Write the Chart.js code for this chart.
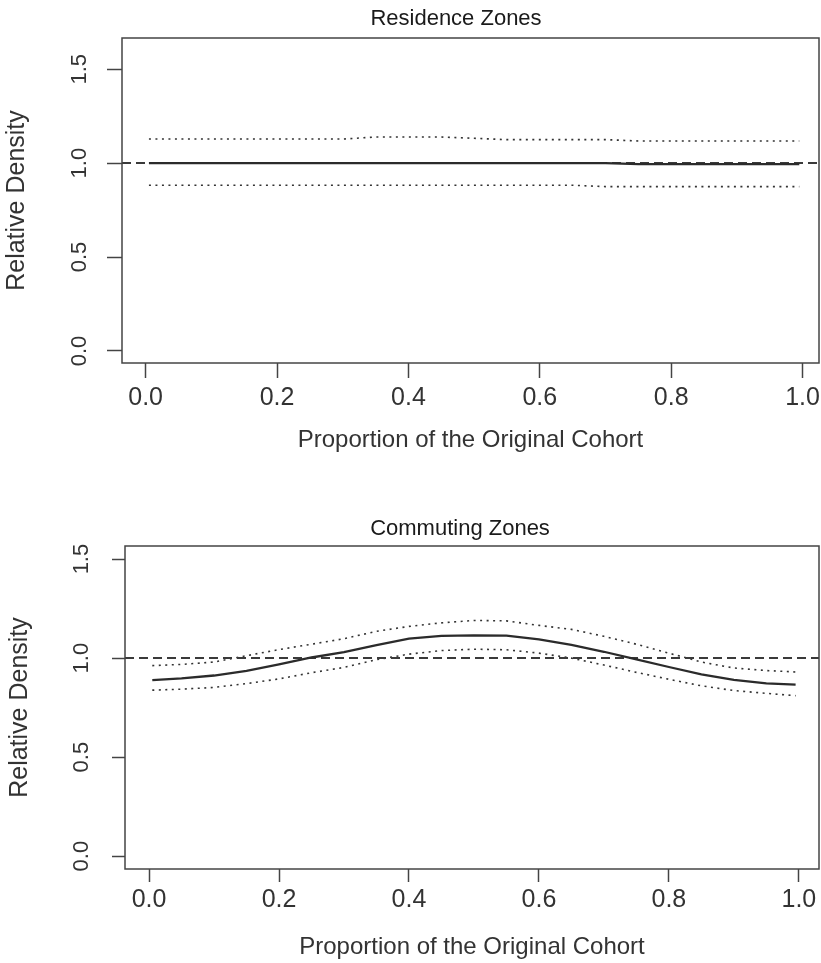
<!DOCTYPE html>
<html>
<head>
<meta charset="utf-8">
<script src="https://cdn.jsdelivr.net/npm/chart.js@4.4.0/dist/chart.umd.min.js"></script>
<style>
  body { margin: 0; background: #fff; }
  canvas { display: block; }
</style>
</head>
<body>
<canvas id="residenceChart" width="821" height="481"></canvas>
<canvas id="commutingChart" width="821" height="482"></canvas>
<script>
// ---------- DATA ----------

// grid of the original cohort proportion where the densities were evaluated
const xGrid = [0.005, 0.05, 0.1, 0.15, 0.2, 0.25, 0.3, 0.35, 0.4, 0.45, 0.5,
               0.55, 0.6, 0.65, 0.7, 0.75, 0.8, 0.85, 0.9, 0.95, 0.995];

// Residence Zones
const residenceDensity = [1, 1, 1, 1, 1, 1, 1, 1, 1, 1, 1,
                          1, 1, 1, 1, 0.995, 0.995, 0.995, 0.995, 0.995, 0.995];
const residenceUpper = [1.128, 1.128, 1.128, 1.128, 1.128, 1.128, 1.128, 1.139, 1.139, 1.139, 1.132,
                        1.125, 1.125, 1.125, 1.125, 1.118, 1.118, 1.118, 1.118, 1.118, 1.118];
const residenceLower = [0.882, 0.882, 0.882, 0.882, 0.882, 0.882, 0.882, 0.882, 0.882, 0.882, 0.882,
                        0.882, 0.882, 0.882, 0.875, 0.875, 0.875, 0.875, 0.875, 0.875, 0.875];

// Commuting Zones
const commutingDensity = [0.889, 0.898, 0.912, 0.935, 0.968, 1.003, 1.03, 1.066, 1.098, 1.112, 1.115,
                          1.113, 1.095, 1.067, 1.032, 0.993, 0.955, 0.918, 0.89, 0.872, 0.866];
const commutingUpper = [0.962, 0.968, 0.98, 1.012, 1.043, 1.07, 1.098, 1.135, 1.16, 1.178, 1.19,
                        1.188, 1.165, 1.145, 1.11, 1.07, 1.025, 0.98, 0.95, 0.937, 0.93];
const commutingLower = [0.838, 0.843, 0.852, 0.871, 0.895, 0.926, 0.953, 0.992, 1.02, 1.038, 1.045,
                        1.042, 1.025, 1.0, 0.965, 0.928, 0.893, 0.86, 0.836, 0.822, 0.81];

const referenceLevel = 1;
const xTickValues = [0, 0.2, 0.4, 0.6, 0.8, 1.0];
const yTickValues = [0, 0.5, 1.0, 1.5];

// ---------- HELPERS ----------

const FONT = '"Liberation Sans", Arial, sans-serif';
const INK = '#2b2b2b';

function toPoints(xs, ys) {
    return xs.map((x, i) => ({ x: x, y: ys[i] }));
}

// box around the plot region + the panel title
const panelFrame = {
    id: 'panelFrame',
    afterDraw(chart, args, opts) {
        const { ctx, chartArea: a } = chart;
        ctx.save();
        ctx.strokeStyle = '#444';
        ctx.lineWidth = 1.5;
        ctx.strokeRect(a.left, a.top, a.right - a.left, a.bottom - a.top);
        ctx.fillStyle = '#1a1a1a';
        ctx.font = '22px ' + FONT;
        ctx.textAlign = 'center';
        ctx.textBaseline = 'alphabetic';
        ctx.fillText(opts.text, opts.x, opts.y);
        ctx.restore();
    }
};

function drawPanel(canvasId, p) {
    const ctx = document.getElementById(canvasId).getContext("2d");

    const dotted = { borderColor: '#333', borderWidth: 1.6, borderDash: [2, 4.5], pointRadius: 0 };

    return new Chart(ctx, {
        type: 'line',
        data: {
            datasets: [
                { data: toPoints(xGrid, p.density), borderColor: INK, borderWidth: 2.3, pointRadius: 0 },
                { data: [{ x: p.xMin, y: referenceLevel }, { x: p.xMax, y: referenceLevel }],
                  borderColor: '#3a3a3a', borderWidth: 2, borderDash: [9, 5], pointRadius: 0 },
                Object.assign({ data: toPoints(xGrid, p.upper) }, dotted),
                Object.assign({ data: toPoints(xGrid, p.lower) }, dotted)
            ]
        },
        options: {
            responsive: false,
            animation: false,
            layout: { padding: { top: p.top, left: 0, right: 2, bottom: 0 } },
            plugins: {
                legend: { display: false },
                tooltip: { enabled: false },
                panelFrame: { text: p.title, x: p.titleX, y: p.titleY }
            },
            scales: {
                x: {
                    type: 'linear',
                    min: p.xMin,
                    max: p.xMax,
                    afterBuildTicks: s => { s.ticks = xTickValues.map(v => ({ value: v })); },
                    afterFit: s => { s.height = p.xAxisHeight; s.paddingLeft = 0; s.paddingRight = 0; },
                    grid: { drawOnChartArea: false, tickLength: p.tickLength, tickColor: '#444', tickWidth: 1.5 },
                    border: { display: false },
                    ticks: {
                        autoSkip: false, maxRotation: 0, padding: p.xTickPad, color: '#333',
                        font: { family: FONT, size: 25, lineHeight: 1.2 },
                        callback: v => v.toFixed(1)
                    },
                    title: {
                        display: true, text: 'Proportion of the Original Cohort', color: '#333',
                        font: { family: FONT, size: 24, lineHeight: 1.2 },
                        padding: { top: 0, bottom: p.xTitlePad }
                    }
                },
                y: {
                    type: 'linear',
                    min: p.yMin,
                    max: p.yMax,
                    afterBuildTicks: s => { s.ticks = yTickValues.map(v => ({ value: v })); },
                    afterFit: s => { s.width = p.yAxisWidth; s.paddingTop = 0; s.paddingBottom = 0; },
                    grid: { drawOnChartArea: false, tickLength: p.tickLength, tickColor: '#444', tickWidth: 1.5 },
                    border: { display: false },
                    ticks: {
                        autoSkip: false, minRotation: 90, maxRotation: 90, crossAlign: 'center',
                        padding: p.yTickPad, color: '#333',
                        font: { family: FONT, size: 22, lineHeight: 1.2 },
                        callback: v => v.toFixed(1)
                    },
                    title: {
                        display: true, text: 'Relative Density', color: '#333',
                        font: { family: FONT, size: 25, lineHeight: 1.2 },
                        padding: { top: p.yTitlePad, bottom: 0 }
                    }
                }
            }
        },
        plugins: [panelFrame]
    });
}

// ---------- PANELS ----------

drawPanel("residenceChart", {
    title: 'Residence Zones', titleX: 456, titleY: 25,
    density: residenceDensity, upper: residenceUpper, lower: residenceLower,
    xMin: -0.036, xMax: 1.025, yMin: -0.064, yMax: 1.666,
    top: 38, xAxisHeight: 118, yAxisWidth: 122, tickLength: 15,
    xTickPad: 5, xTitlePad: 26.6, yTickPad: 11.5, yTitlePad: 2
});

drawPanel("commutingChart", {
    title: 'Commuting Zones', titleX: 460, titleY: 54,
    density: commutingDensity, upper: commutingUpper, lower: commutingLower,
    xMin: -0.037, xMax: 1.031, yMin: -0.065, yMax: 1.566,
    top: 65, xAxisHeight: 94, yAxisWidth: 125, tickLength: 13,
    xTickPad: 3, xTitlePad: 1.6, yTickPad: 15, yTitlePad: 5
});
</script>
</body>
</html>
